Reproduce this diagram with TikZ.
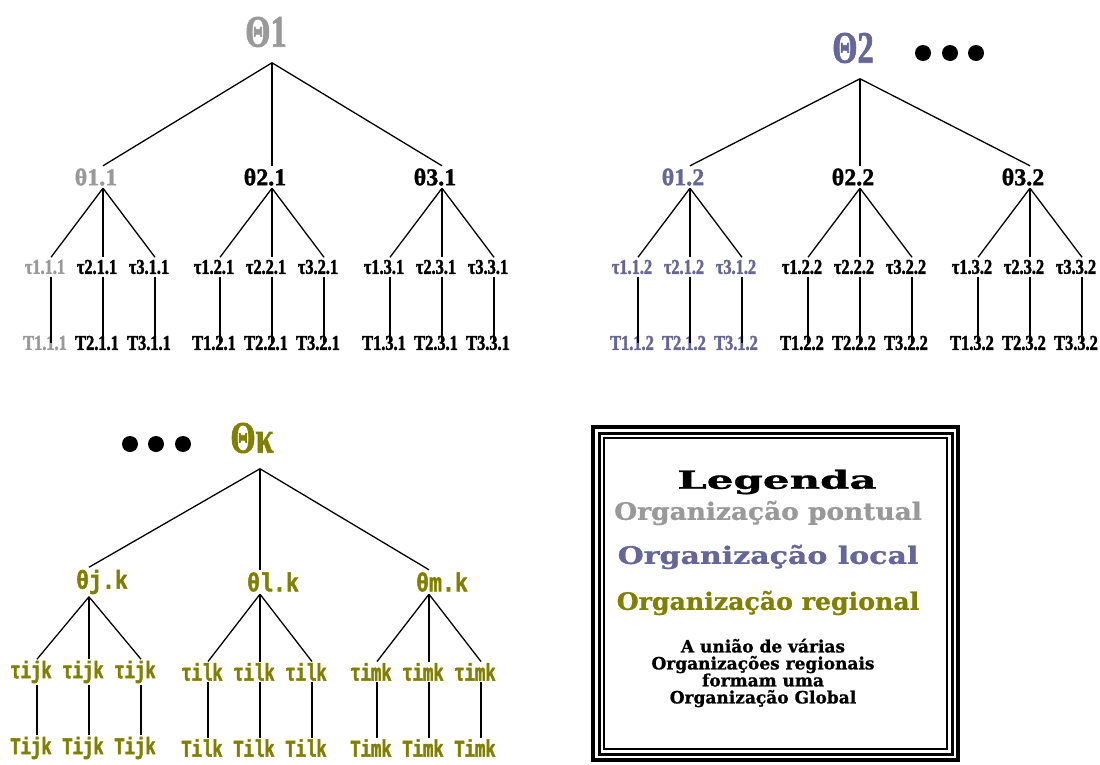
\documentclass[tikz,border=0pt]{standalone}
\usepackage{fontspec}
\usepackage{xcolor}
\usepackage{tikz}
\usetikzlibrary{positioning}
\setmainfont{Liberation Serif}
\newfontfamily\labserif[FakeBold=1.5]{Liberation Serif}
\newfontfamily\labcond[FakeStretch=0.78, FakeBold=1.8]{Liberation Serif}
\newfontfamily\labroot[FakeStretch=0.72, FakeBold=1.5]{Liberation Serif}
\newfontfamily\labslab[FakeStretch=0.83, FakeBold=2]{Liberation Mono}
\newfontfamily\labslabn[FakeStretch=0.72, FakeBold=2]{Liberation Mono}
\newfontfamily\legserif[FakeBold=1]{DejaVu Serif}

\definecolor{pontual}{RGB}{153,153,153}
\definecolor{local}{RGB}{102,102,153}
\definecolor{regional}{RGB}{128,128,0}

\begin{document}
\begin{tikzpicture}[x=1pt, y=-1pt,
			line width=1.3pt,
			rootlab/.style={font=\labroot\bfseries\fontsize{45}{45}\selectfont, inner xsep=0pt, inner ysep=15pt},
			thlab/.style={font=\labserif\bfseries\fontsize{24}{24}\selectfont, inner xsep=0pt, inner ysep=2pt},
			taulab/.style={font=\labcond\bfseries\fontsize{21}{21}\selectfont, inner xsep=0pt, inner ysep=2pt},
			kthlab/.style={font=\labslab\bfseries\fontsize{26}{26}\selectfont, text=regional, inner xsep=0pt, inner ysep=2pt},
			ktaulab/.style={font=\labslabn\bfseries\fontsize{24}{24}\selectfont, text=regional, inner xsep=0pt, inner ysep=1pt},
			legtitle/.style={font=\legserif\bfseries\fontsize{25}{25}\selectfont},
			legitem/.style={font=\legserif\bfseries\fontsize{24}{24}\selectfont},
			legnote/.style={font=\legserif\bfseries\fontsize{17}{17}\selectfont, align=center}]

			\useasboundingbox (0,0) rectangle (1100,764);

			% organizacao pontual / 1 (only the first branch is grey)
			\node[rootlab, text=pontual] (r1) at (266,32) {Θ1};
			\foreach \j/\cx in {1/103, 2/272, 3/442}{
				\ifnum\j=1 \def\hcol{pontual}\else\def\hcol{black}\fi
				\node[thlab, text=\hcol] (a1\j) at (\cx-7,177) {θ\j.1};
				\draw ([xshift=6pt]r1.south) -- ([xshift=7pt]a1\j.north);
				\foreach \i/\dx in {1/-52, 2/0, 3/52}{
					\ifnum\j\i=11 \def\tcol{pontual}\else\def\tcol{black}\fi
					\node[taulab, text=\tcol] (b1\j\i) at (\cx+\dx-6,267) {τ\i.\j.1};
					\node[taulab, text=\tcol] (c1\j\i) at (\cx+\dx-6,343) {T\i.\j.1};
					\draw ([xshift=7pt]a1\j.south) -- ([xshift=6pt]b1\j\i.north);
					\draw ([xshift=6pt]b1\j\i.south) -- ([xshift=6pt]c1\j\i.center);
				}
			}

			% organizacao local / 2
			\node[rootlab, text=local] (r2) at (853,48) {Θ2};
			\foreach \j/\cx/\col in {1/690/local, 2/860/black, 3/1030/black}{
				\node[thlab, text=\col] (a2\j) at (\cx-7,177) {θ\j.2};
				\draw ([xshift=7pt]r2.south) -- ([xshift=7pt]a2\j.north);
				\foreach \i/\dx in {1/-52, 2/0, 3/52}{
					\node[taulab, text=\col] (b2\j\i) at (\cx+\dx-6,267) {τ\i.\j.2};
					\node[taulab, text=\col] (c2\j\i) at (\cx+\dx-6,343) {T\i.\j.2};
					\draw ([xshift=7pt]a2\j.south) -- ([xshift=6pt]b2\j\i.north);
					\draw ([xshift=6pt]b2\j\i.south) -- ([xshift=6pt]c2\j\i.center);
				}
			}
			\fill (923,53) circle (8);
			\fill (950,53) circle (8);
			\fill (976,53) circle (8);

			% organizacao regional / k
			\node[rootlab, text=regional] (rk) at (252,438) {Θκ};
			\fill (130,444) circle (8);
			\fill (156,444) circle (8);
			\fill (183,444) circle (8);
			\foreach \j/\cx/\l in {1/89/j, 2/260/l, 3/429/m}{
				\node[kthlab] (ak\j) at (\cx+13,582) {θ\l.k};
				\draw ([xshift=8pt]rk.south) -- ([xshift=-13pt]ak\j.north);
				\foreach \i/\dx in {1/-52, 2/0, 3/52}{
					\node[ktaulab] (bk\j\i) at (\cx+\dx-6,672) {τi\l k};
					\node[ktaulab] (ck\j\i) at (\cx+\dx-6,748) {Ti\l k};
					\draw ([xshift=-13pt]ak\j.south) -- ([xshift=6pt]bk\j\i.north);
					\draw ([xshift=6pt]bk\j\i.south) -- ([xshift=6pt]ck\j\i.north);
				}
			}

			% legenda
			\draw[line width=4pt] (593,427) rectangle (958,760);
			\draw[line width=3pt] (599,433) rectangle (952,754);
			\draw[line width=2pt] (604,438) rectangle (947,749);
			\node[legtitle] (leg) at (777,482) {\scalebox{1.68}[1]{Legenda}};
			\node[legitem, text=pontual] (lpon) at (768,513) {\scalebox{1.1}[1]{Organização pontual}};
			\node[legitem, text=local] (lloc) at (768,557) {\scalebox{1.25}[1]{Organização local}};
			\node[legitem, text=regional] (lreg) at (768,603) {\scalebox{1.05}[1]{Organização regional}};
			\node[legnote] (lnote) at (763,673) {A união de várias\\Organizações regionais\\formam uma\\Organização Global};
		\end{tikzpicture}
\end{document}
